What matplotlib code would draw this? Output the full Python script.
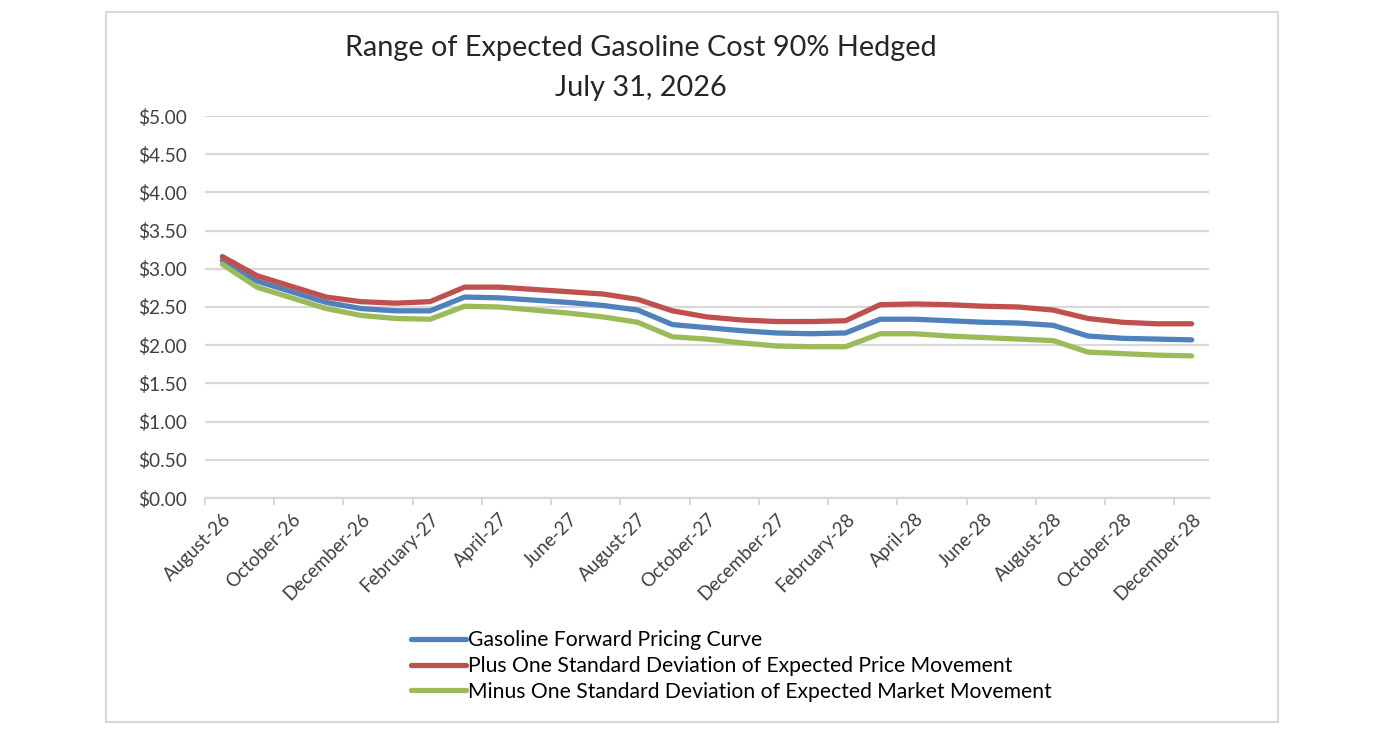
import matplotlib
matplotlib.use("Agg")
import matplotlib.pyplot as plt
from matplotlib.patches import Rectangle

plt.rcParams['font.family'] = ['Lato', 'DejaVu Sans']

months = ['August-26', 'September-26', 'October-26', 'November-26', 'December-26',
          'January-27', 'February-27', 'March-27', 'April-27', 'May-27', 'June-27',
          'July-27', 'August-27', 'September-27', 'October-27', 'November-27',
          'December-27', 'January-28', 'February-28', 'March-28', 'April-28',
          'May-28', 'June-28', 'July-28', 'August-28', 'September-28',
          'October-28', 'November-28', 'December-28']

forward = [3.11, 2.84, 2.70, 2.56, 2.48, 2.45, 2.45, 2.63, 2.62, 2.59, 2.56,
           2.52, 2.46, 2.27, 2.23, 2.19, 2.16, 2.15, 2.16, 2.34, 2.34, 2.32,
           2.30, 2.29, 2.26, 2.12, 2.09, 2.08, 2.07]
plus_sd = [3.16, 2.91, 2.77, 2.63, 2.57, 2.55, 2.57, 2.76, 2.76, 2.73, 2.70,
           2.67, 2.60, 2.45, 2.37, 2.33, 2.31, 2.31, 2.32, 2.53, 2.54, 2.53,
           2.51, 2.50, 2.46, 2.35, 2.30, 2.28, 2.28]
minus_sd = [3.06, 2.76, 2.62, 2.48, 2.39, 2.35, 2.34, 2.51, 2.50, 2.46, 2.42,
            2.37, 2.30, 2.11, 2.08, 2.03, 1.99, 1.98, 1.98, 2.15, 2.15, 2.12,
            2.10, 2.08, 2.06, 1.91, 1.89, 1.87, 1.86]

labels = ['Gasoline Forward Pricing Curve',
          'Plus One Standard Deviation of Expected Price Movement',
          'Minus One Standard Deviation of Expected Market Movement']
colors = ['#4F81BD', '#C0504D', '#9BBB59']

fig = plt.figure(figsize=(13.81, 7.31), dpi=100)
ax = fig.add_axes([205/1381, 1-498/731, 1004/1381, 382/731])

# outer chart border
fig.patches.append(Rectangle((106/1381, 1-722/731), 1172/1381, 710/731,
                             transform=fig.transFigure, fill=False,
                             edgecolor='#D9D9D9', lw=1.5))

x = list(range(len(months)))
for ys, lab, c in zip([forward, plus_sd, minus_sd], labels, colors):
    ax.plot(x, ys, color=c, lw=3.8, label=lab, solid_capstyle='round')

ax.set_xlim(-0.5, len(months) - 0.5)
ax.set_ylim(0, 5)
ax.set_yticks([i * 0.5 for i in range(11)])
ax.set_yticklabels(['$%.2f' % (i * 0.5) for i in range(11)], fontsize=13.8, color='#404040')
ax.tick_params(axis='y', length=0, pad=13)
ax.grid(axis='y', color='#D9D9D9', lw=1.6)
ax.set_axisbelow(True)

ax.set_xticks(x[::2])
ax.set_xticklabels(months[::2], rotation=45, ha='right', rotation_mode='anchor',
                   fontsize=13.5, color='#404040')
ax.set_xticks([i - 0.5 for i in x[::2]], minor=True)
ax.tick_params(axis='x', which='major', length=0, pad=9)
ax.tick_params(axis='x', which='minor', length=5, color='#D9D9D9', width=1.5)

for s in ['left', 'right', 'top']:
    ax.spines[s].set_visible(False)
ax.spines['bottom'].set_color('#D9D9D9')
ax.spines['bottom'].set_linewidth(1.6)

fig.text(641/1381, 1-48/731, 'Range of Expected Gasoline Cost 90% Hedged',
         ha='center', va='center', fontsize=20.8, color='#262626')
fig.text(641/1381, 1-88/731, 'July 31, 2026',
         ha='center', va='center', fontsize=20.8, color='#262626')

leg = fig.legend(loc='upper left', bbox_to_anchor=(411/1381, 1-630/731),
                 frameon=False, fontsize=15.2, handlelength=2.6, handletextpad=0.1,
                 labelspacing=0.28, borderaxespad=0, borderpad=0)

fig.savefig('out.png', dpi=100)
